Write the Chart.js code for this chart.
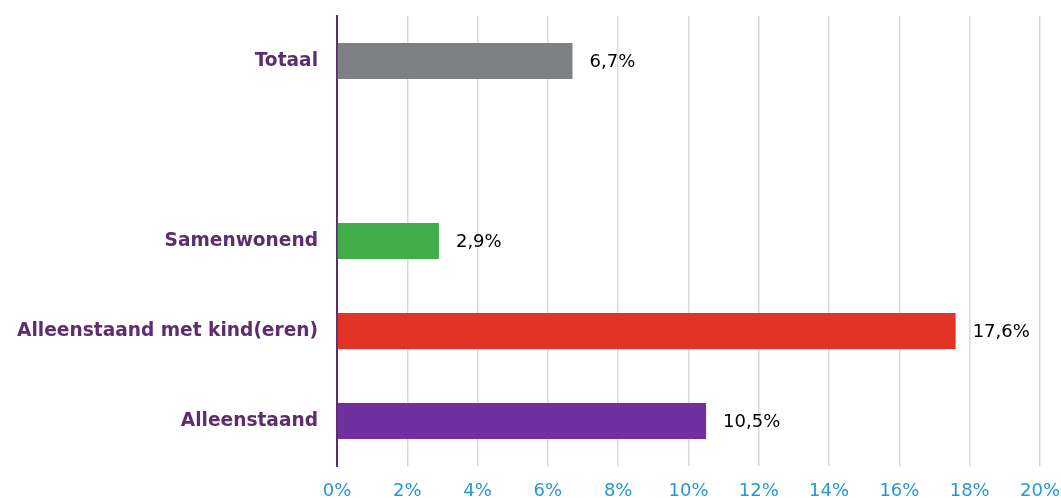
<!DOCTYPE html>
<html lang="nl">
  <head>
    <meta charset="UTF-8" />
    <title>Huishoudtype</title>
    <style>
      html, body { margin: 0; padding: 0; background: #fff; }
      #wrap { width: 1061px; height: 498px; }
    </style>
  </head>
  <body>
    <div id="wrap"><canvas id="myChart" width="1061" height="498"></canvas></div>

    <script src="https://cdn.jsdelivr.net/npm/chart.js"></script>
    <script>
      // categories top to bottom, the blank one is the gap under Totaal
      const categories = ["Totaal", "", "Samenwonend", "Alleenstaand met kind(eren)", "Alleenstaand"];
      const percentages = [6.7, null, 2.9, 17.6, 10.5];
      const barColors = ["#7f8083", "#ffffff", "#41ae49", "#e13427", "#7030a0"];
      const xTicks = [0, 2, 4, 6, 8, 10, 12, 14, 16, 18, 20];

      const FONT = "'DejaVu Sans', Verdana, sans-serif";

      // writes "6,7%" next to the end of each bar
      const valueLabels = {
        id: "valueLabels",
        afterDatasetsDraw(chart) {
          const { ctx } = chart;
          const meta = chart.getDatasetMeta(0);
          ctx.save();
          ctx.font = "18px " + FONT;
          ctx.fillStyle = "#000";
          ctx.textAlign = "left";
          ctx.textBaseline = "middle";
          meta.data.forEach((bar, i) => {
            const v = percentages[i];
            if (v == null) return;
            ctx.fillText(v.toFixed(1).replace(".", ",") + "%", bar.x + 17, bar.y + 1);
          });
          ctx.restore();
        },
      };

      const ctx = document.getElementById("myChart").getContext("2d");
      new Chart(ctx, {
        type: "bar",
        data: {
          labels: categories,
          datasets: [
            {
              data: percentages,
              backgroundColor: barColors,
              barPercentage: 0.4,
              categoryPercentage: 1,
            },
          ],
        },
        options: {
          indexAxis: "y",
          responsive: false,
          animation: false,
          layout: { padding: { top: 16, right: 21, left: 0, bottom: 0 } },
          plugins: {
            legend: { display: false },
            tooltip: { enabled: false },
          },
          scales: {
            x: {
              min: 0,
              max: 20,
              afterBuildTicks(scale) {
                scale.ticks = xTicks.map((v) => ({ value: v }));
              },
              afterFit(scale) {
                scale.height = 32;
                scale.paddingLeft = 0;
                scale.paddingRight = 0;
              },
              grid: { color: "#d9d9d9", lineWidth: 1.5, drawTicks: false },
              border: { display: false },
              ticks: {
                color: "#2497d6",
                padding: 15,
                font: { family: FONT, size: 18 },
                callback: (v) => v + "%",
              },
            },
            y: {
              afterFit(scale) {
                scale.width = 337;
                scale.paddingTop = 0;
                scale.paddingBottom = 0;
              },
              grid: { display: false, drawTicks: false },
              border: { display: true, color: "#5e2d70", width: 2 },
              ticks: {
                color: "#5e2d70",
                padding: 19,
                font: { family: FONT, size: 18.6, weight: "bold" },
              },
            },
          },
        },
        plugins: [valueLabels],
      });
    </script>
  </body>
</html>
